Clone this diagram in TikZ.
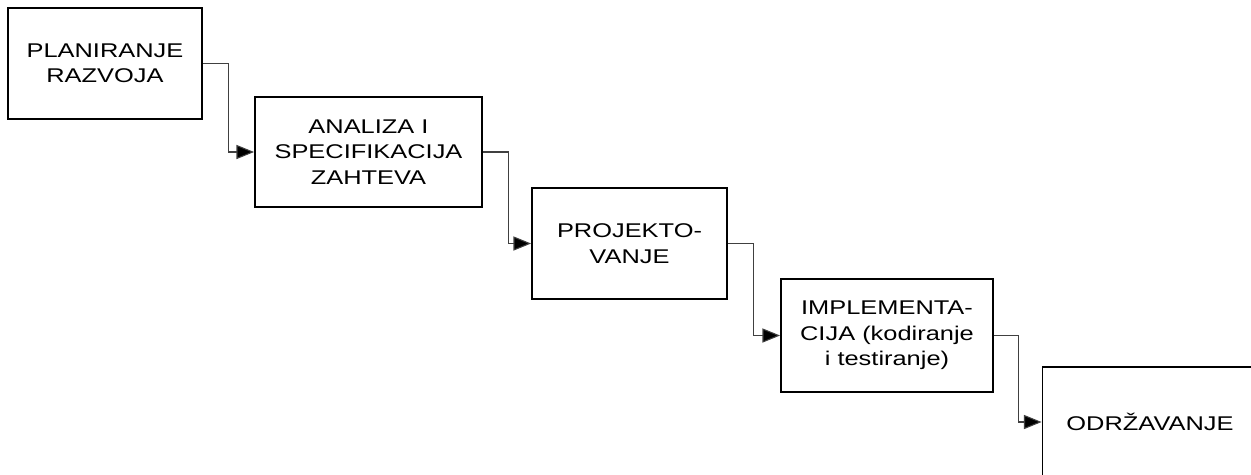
\documentclass[tikz,border=0pt]{standalone}
\usepackage{fontspec}
\setmainfont[FakeStretch=1.28]{Liberation Sans}
\usetikzlibrary{arrows.meta,positioning}
\tikzset{  phase/.style={draw,line width=1.1pt,align=center,font=\fontsize{11.3}{14.5}\selectfont,inner sep=2pt} }
\tikzset{  flow/.style={draw=black!75,line width=0.6pt,-{Triangle[length=10pt,width=8pt,fill=black]}} }

\begin{document}
\begin{tikzpicture}[x=0.02cm,y=-0.02cm]
   \useasboundingbox (0,0) rectangle (1251,474);
   \node[phase,minimum width=3.88cm,minimum height=2.22cm] (plan) at (105,63.5) {PLANIRANJE\\RAZVOJA};
   \node[phase,minimum width=4.54cm,minimum height=2.2cm] (anal) at (368.5,152) {ANALIZA I\\SPECIFIKACIJA\\ZAHTEVA};
   \node[phase,minimum width=3.9cm,minimum height=2.22cm] (proj) at (629.5,243.5) {PROJEKTO-\\VANJE};
   \node[phase,minimum width=4.24cm,minimum height=2.26cm] (impl) at (887,335.5) {IMPLEMENTA-\\CIJA (kodiranje\\i testiranje)};
   \node[phase,minimum width=4.3cm,minimum height=2.2cm] (odrz) at (1150,422) {ODRŽAVANJE};
   \draw[flow] (plan.east) -- ++(26,0) |- (anal.west);
   \draw[flow] (anal.east) -- ++(26,0) |- (proj.west);
   \draw[flow] (proj.east) -- ++(26,0) |- (impl.west);
   \draw[flow] (impl.east) -- ++(25,0) |- (odrz.west);
  \end{tikzpicture}
\end{document}
